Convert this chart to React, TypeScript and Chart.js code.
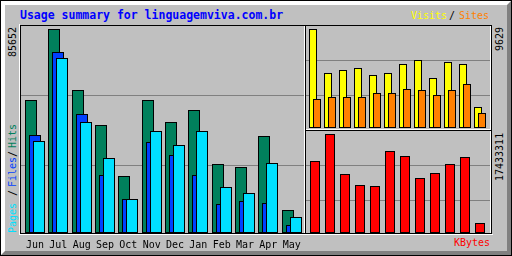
import React, { useEffect, useRef } from 'react';
import { Chart, registerables } from 'chart.js';

Chart.register(...registerables);

// ---------- data ----------
const MONTHS = ['Jun', 'Jul', 'Aug', 'Sep', 'Oct', 'Nov', 'Dec', 'Jan', 'Feb', 'Mar', 'Apr', 'May'];
const HITS = [55840, 85652, 60040, 45345, 23930, 55840, 46605, 51643, 28970, 27711, 40726, 9657];
const FILES = [41146, 75995, 49963, 24352, 14100, 38207, 32749, 24352, 12176, 13436, 12596, 3359];
const PAGES = [38627, 73476, 46604, 31490, 14275, 42826, 36948, 42826, 19314, 16794, 29390, 6718];
const VISITS = [9629, 5349, 5641, 5836, 5155, 5349, 6225, 6614, 4863, 6419, 6225, 2042];
const SITES = [2821, 3015, 3015, 3015, 3404, 3404, 3793, 3696, 3210, 3696, 4279, 1459];
const KBYTES = [12678768, 17433311, 10389546, 8452512, 8276418, 14439708, 13559238, 9685170, 10565640, 12150486, 13383144, 1760940];

const TITLE = 'Usage summary for linguagemviva.com.br';
const MAX_MAIN_LABEL = '85652';
const MAX_VISITS_LABEL = '9629';
const MAX_KBYTES_LABEL = '17433311';

// ---------- style ----------
const MONO = '"DejaVu Sans Mono", monospace';
const C_HITS = '#00805c';
const C_FILES = '#0040ff';
const C_PAGES = '#00e0ff';
const C_VISITS = '#ffff00';
const C_SITES = '#ff8000';
const C_KBYTES = '#ff0000';
const C_GRID = '#808080';

const snapPlugin = {
  id: 'snap',
  afterDatasetsUpdate(chart: any) {
    chart.data.datasets.forEach((_: any, i: number) => {
      chart.getDatasetMeta(i).data.forEach((el: any) => {
        el.x = Math.round(el.x);
        el.y = Math.round(el.y);
        el.base = Math.round(el.base);
      });
    });
  },
};

function barDs(values: number[], offset: number, color: string, thickness: number) {
  return {
    data: values.map((v, i) => ({ x: i + offset, y: v })),
    backgroundColor: color,
    borderColor: '#000',
    borderWidth: 1,
    borderSkipped: false,
    inflateAmount: 0,
    barThickness: thickness,
    grouped: false,
  };
}

function yScale(max: number, fracs: number[]) {
  return {
    type: 'linear',
    min: 0,
    max,
    afterBuildTicks: (s: any) => {
      s.ticks = fracs.map((f) => ({ value: max * f }));
    },
    ticks: { display: false },
    grid: { color: C_GRID, lineWidth: 1, drawTicks: false },
    border: { display: false },
    afterFit: (s: any) => {
      s.width = 0;
      s.paddingTop = 0;
      s.paddingBottom = 0;
    },
  };
}

function baseOptions(scales: any) {
  return {
    responsive: false,
    maintainAspectRatio: false,
    animation: false,
    devicePixelRatio: 1,
    layout: { padding: 0 },
    plugins: { legend: { display: false }, tooltip: { enabled: false }, title: { display: false } },
    events: [],
    scales,
  };
}

const MAIN_W = 283;
const MAIN_AREA_H = 207;
const MAIN_STEP = 70 / 3;
const SIDE_W = 184;
const SIDE_H = 102;
const SIDE_STEP = 15;

function ChartCanvas({ config, style, width, height }: any) {
  const ref = useRef<HTMLCanvasElement | null>(null);
  useEffect(() => {
    const chart = new Chart(ref.current as HTMLCanvasElement, config);
    return () => chart.destroy();
  }, []);
  return <canvas ref={ref} width={width} height={height} style={{ position: 'absolute', ...style }} />;
}

function mainConfig() {
  const yMax = (Math.max(...HITS) * MAIN_AREA_H) / 204;
  const off = 4 / MAIN_STEP;
  return {
    type: 'bar',
    data: {
      datasets: [
        barDs(PAGES, off, C_PAGES, 12),
        barDs(FILES, 0, C_FILES, 12),
        barDs(HITS, -off, C_HITS, 12),
      ],
    },
    options: baseOptions({
      x: {
        type: 'linear',
        offset: false,
        min: -0.6,
        max: -0.6 + MAIN_W / MAIN_STEP,
        afterBuildTicks: (s: any) => {
          s.ticks = MONTHS.map((_, i) => ({ value: i }));
        },
        ticks: {
          autoSkip: false,
          maxRotation: 0,
          minRotation: 0,
          padding: 6,
          color: '#000',
          font: { family: MONO, size: 10 },
          callback: (v: number) => MONTHS[Math.round(v)],
        },
        grid: { display: false, drawTicks: false, offset: false },
        border: { display: false },
        afterFit: (s: any) => {
          s.height = 23;
          s.paddingLeft = 0;
          s.paddingRight = 0;
        },
      },
      y: yScale(yMax, [67.5 / MAIN_AREA_H, 137.5 / MAIN_AREA_H]),
    }),
    plugins: [snapPlugin],
  };
}

function sideX() {
  return {
    type: 'linear',
    display: false,
    offset: false,
    min: -0.6,
    max: -0.6 + SIDE_W / SIDE_STEP,
  };
}

function upperConfig() {
  const yMax = (Math.max(...VISITS) * SIDE_H) / 99;
  const off = 2 / SIDE_STEP;
  return {
    type: 'bar',
    data: {
      datasets: [barDs(SITES, off, C_SITES, 8), barDs(VISITS, -off, C_VISITS, 8)],
    },
    options: baseOptions({ x: sideX(), y: yScale(yMax, [32.5 / SIDE_H, 67.5 / SIDE_H]) }),
    plugins: [snapPlugin],
  };
}

function lowerConfig() {
  const yMax = (Math.max(...KBYTES) * SIDE_H) / 99;
  return {
    type: 'bar',
    data: { datasets: [barDs(KBYTES, 0, C_KBYTES, 10)] },
    options: baseOptions({ x: sideX(), y: yScale(yMax, [32.5 / SIDE_H, 67.5 / SIDE_H]) }),
    plugins: [snapPlugin],
  };
}

const line = (left: number, top: number, width: number, height: number, color: string) => (
  <div style={{ position: 'absolute', left, top, width, height, background: color }} />
);

const textBase: React.CSSProperties = {
  position: 'absolute',
  whiteSpace: 'nowrap',
  fontFamily: MONO,
  fontSize: 10,
  lineHeight: '10px',
};

const up = (left: number, top: number, text: string, color: string) => (
  <div
    style={{
      ...textBase,
      left,
      top,
      color,
      transform: 'rotate(-90deg)',
      transformOrigin: '0 0',
    }}
  >
    {text}
  </div>
);

const label = (left: number, top: number, text: string, color: string) => (
  <div style={{ ...textBase, left, top, color }}>{text}</div>
);

export default function App() {
  return (
    <div style={{ position: 'fixed', left: 0, top: 0, width: 512, height: 256, overflow: 'hidden' }}>
      {/* outer frame */}
      <div
        style={{
          position: 'absolute',
          left: 0,
          top: 0,
          width: 512,
          height: 256,
          boxSizing: 'border-box',
          border: '1px solid #000',
          background: '#c0c0c0',
        }}
      />
      <div
        style={{
          position: 'absolute',
          left: 1,
          top: 1,
          width: 510,
          height: 254,
          boxSizing: 'border-box',
          borderTop: '4px solid #fff',
          borderLeft: '4px solid #fff',
          borderRight: '4px solid #808080',
          borderBottom: '4px solid #808080',
        }}
      />
      {/* panel frame */}
      {line(19, 24, 1, 211, '#fff')}
      {line(19, 234, 474, 1, '#fff')}
      {line(20, 25, 472, 1, '#000')}
      {line(20, 25, 1, 209, '#000')}
      {line(20, 233, 472, 1, '#000')}
      {line(491, 25, 1, 209, '#000')}
      {line(490, 26, 1, 207, '#fff')}
      {/* section lines */}
      {line(304, 26, 1, 207, '#fff')}
      {line(305, 25, 1, 208, '#000')}
      {line(306, 129, 184, 1, '#fff')}
      {line(305, 130, 186, 1, '#000')}

      <ChartCanvas config={mainConfig()} width={MAIN_W} height={230} style={{ left: 21, top: 26 }} />
      <ChartCanvas config={upperConfig()} width={SIDE_W} height={SIDE_H} style={{ left: 306, top: 26 }} />
      <ChartCanvas config={lowerConfig()} width={SIDE_W} height={SIDE_H} style={{ left: 306, top: 131 }} />

      {/* title and legends */}
      <div
        style={{
          position: 'absolute',
          left: 20,
          top: 9,
          whiteSpace: 'nowrap',
          fontFamily: MONO,
          fontWeight: 'bold',
          fontSize: 11.5,
          lineHeight: '13px',
          color: '#0000ff',
        }}
      >
        {TITLE}
      </div>
      {label(411, 11, 'Visits', C_VISITS)}
      {label(449, 11, '/', '#000')}
      {label(459, 11, 'Sites', C_SITES)}
      {label(454, 238, 'KBytes', C_KBYTES)}

      {up(8, 57, MAX_MAIN_LABEL, '#000')}
      {up(495, 51, MAX_VISITS_LABEL, '#000')}
      {up(495, 180.5, MAX_KBYTES_LABEL, '#000')}

      {up(8, 233, 'Pages', C_PAGES)}
      {up(8, 196, '/', '#000')}
      {up(8, 187, 'Files', C_FILES)}
      {up(8, 157, '/', '#000')}
      {up(8, 147.5, 'Hits', C_HITS)}
    </div>
  );
}
